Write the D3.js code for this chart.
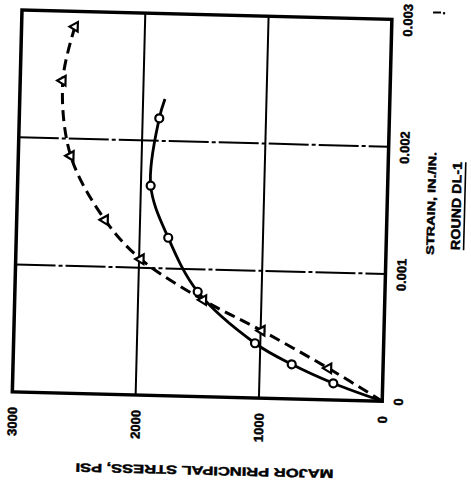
<!DOCTYPE html>
<html>
<head>
<meta charset="utf-8">
<script src="https://cdn.jsdelivr.net/npm/d3@7"></script>
<style>
  body { margin: 0; background: #fff; }
  text { font-family: "Liberation Sans", Arial, sans-serif; font-weight: bold; fill: #000; stroke: #000; stroke-width: 0.45px; }
</style>
</head>
<body>
<div id="chart"></div>
<script>
// tick values
var stressTicks = [0, 1000, 2000, 3000];
var strainTicks = [0, 0.001, 0.002, 0.003];

// solid curve (open circles)
var circleStress = [400, 741, 1043, 1518, 1768, 1921, 1865];
var circleStrain = [0.000131, 0.000272, 0.00043, 0.000823, 0.001241, 0.001646, 0.002177];
var solidTailStress = [1823];
var solidTailStrain = [0.00233];

// dashed curve (triangles)
var triStress = [443, 991, 1471, 1986, 2284, 2575, 2655, 2567];
var triStrain = [0.000248, 0.00053, 0.000759, 0.001067, 0.001368, 0.001864, 0.002453, 0.002879];

var W = 370, H = 382;

var svg = d3.select("#chart").append("svg")
    .attr("width", 471)
    .attr("height", 493);

// the scanned page is a little tilted
var g = svg.append("g")
    .attr("transform", "translate(22,10) rotate(1.45)");

// page is turned: stress runs right-to-left, strain bottom-to-top
var x = d3.scaleLinear().domain([3000, 0]).range([0, W]);
var y = d3.scaleLinear().domain([0, 0.003]).range([H, 0]);

// grid
g.selectAll("line.vgrid")
    .data(stressTicks.filter(function(d) { return d > 0 && d < 3000; }))
    .enter().append("line")
    .attr("class", "vgrid")
    .attr("x1", function(d) { return x(d); })
    .attr("x2", function(d) { return x(d); })
    .attr("y1", 0).attr("y2", H)
    .attr("stroke", "#000").attr("stroke-width", 2);

g.selectAll("line.hgrid")
    .data(strainTicks.filter(function(d) { return d > 0 && d < 0.003; }))
    .enter().append("line")
    .attr("class", "hgrid")
    .attr("x1", 0).attr("x2", W)
    .attr("y1", function(d) { return y(d); })
    .attr("y2", function(d) { return y(d); })
    .attr("stroke", "#000").attr("stroke-width", 2)
    .attr("stroke-dasharray", "40,3,4,3");

// frame
g.append("rect")
    .attr("x", 0).attr("y", 0)
    .attr("width", W).attr("height", H)
    .attr("fill", "none")
    .attr("stroke", "#000")
    .attr("stroke-width", 3.5);

// curves
var line = d3.line()
    .x(function(d) { return x(d[0]); })
    .y(function(d) { return y(d[1]); })
    .curve(d3.curveCatmullRom.alpha(0.5));

var triPts = [[0, 0]].concat(triStress.map(function(s, i) { return [s, triStrain[i]]; }));
var circPts = circleStress.map(function(s, i) { return [s, circleStrain[i]]; });
var solidPts = [[0, 0]].concat(circPts, [[solidTailStress[0], solidTailStrain[0]]]);

g.append("path")
    .attr("d", line(triPts))
    .attr("fill", "none")
    .attr("stroke", "#000")
    .attr("stroke-width", 3)
    .attr("stroke-dasharray", "11,6");

g.append("path")
    .attr("d", line(solidPts))
    .attr("fill", "none")
    .attr("stroke", "#000")
    .attr("stroke-width", 2.8);

// markers
g.selectAll("path.tri")
    .data(triPts.slice(1))
    .enter().append("path")
    .attr("class", "tri")
    .attr("d", d3.symbol(d3.symbolTriangle, 40))
    .attr("transform", function(d) { return "translate(" + x(d[0]) + "," + y(d[1]) + ") rotate(-90)"; })
    .attr("fill", "#fff")
    .attr("stroke", "#000")
    .attr("stroke-width", 2.2);

g.selectAll("circle.pt")
    .data(circPts)
    .enter().append("circle")
    .attr("class", "pt")
    .attr("cx", function(d) { return x(d[0]); })
    .attr("cy", function(d) { return y(d[1]); })
    .attr("r", 4)
    .attr("fill", "#fff")
    .attr("stroke", "#000")
    .attr("stroke-width", 2.2);

// stress axis (bottom, labels turned)
var xAxis = g.append("g")
    .attr("transform", "translate(0,397)")
    .call(d3.axisBottom(x).tickValues(stressTicks).tickSize(0).tickPadding(0).tickFormat(d3.format("d")));
xAxis.select(".domain").remove();
xAxis.selectAll("text")
    .attr("x", 0).attr("y", 0)
    .attr("dy", "0.35em")
    .attr("text-anchor", "end")
    .attr("transform", "rotate(-90)")
    .style("font-size", "13px");

// strain axis (right, labels turned)
var yAxis = g.append("g")
    .attr("transform", "translate(386,0)")
    .call(d3.axisRight(y).tickValues(strainTicks).tickSize(0).tickPadding(0)
        .tickFormat(function(d) { return d === 0 ? "0" : d3.format(".3f")(d); }));
yAxis.select(".domain").remove();
yAxis.selectAll("text")
    .attr("x", 0).attr("y", 0)
    .attr("dy", "0.35em")
    .attr("text-anchor", "middle")
    .attr("transform", "rotate(-90)")
    .style("font-size", "13px");

// titles
g.append("text")
    .attr("transform", "translate(194,456) rotate(180)")
    .attr("text-anchor", "middle")
    .attr("dy", "0.35em")
    .attr("textLength", 258)
    .attr("lengthAdjust", "spacingAndGlyphs")
    .style("font-size", "12px")
    .text("MAJOR PRINCIPAL STRESS, PSI");

g.append("text")
    .attr("transform", "translate(414,183) rotate(-90)")
    .attr("text-anchor", "middle")
    .attr("dy", "0.35em")
    .attr("textLength", 103)
    .attr("lengthAdjust", "spacingAndGlyphs")
    .style("font-size", "11px")
    .text("STRAIN, IN./IN.");

var round = g.append("g")
    .attr("transform", "translate(439,185) rotate(-90)");
round.append("text")
    .attr("text-anchor", "middle")
    .attr("dy", "0.35em")
    .attr("textLength", 88)
    .attr("lengthAdjust", "spacingAndGlyphs")
    .style("font-size", "13px")
    .text("ROUND DL-1");
round.append("line")
    .attr("x1", -44).attr("x2", 44)
    .attr("y1", 8.5).attr("y2", 8.5)
    .attr("stroke", "#000").attr("stroke-width", 1.6);

// stray mark top right of the scan
g.append("line")
    .attr("x1", 411).attr("x2", 419)
    .attr("y1", -8).attr("y2", -8)
    .attr("stroke", "#000").attr("stroke-width", 2);
g.append("circle")
    .attr("cx", 422).attr("cy", -7.5).attr("r", 1.2)
    .attr("fill", "#000");
</script>
</body>
</html>
